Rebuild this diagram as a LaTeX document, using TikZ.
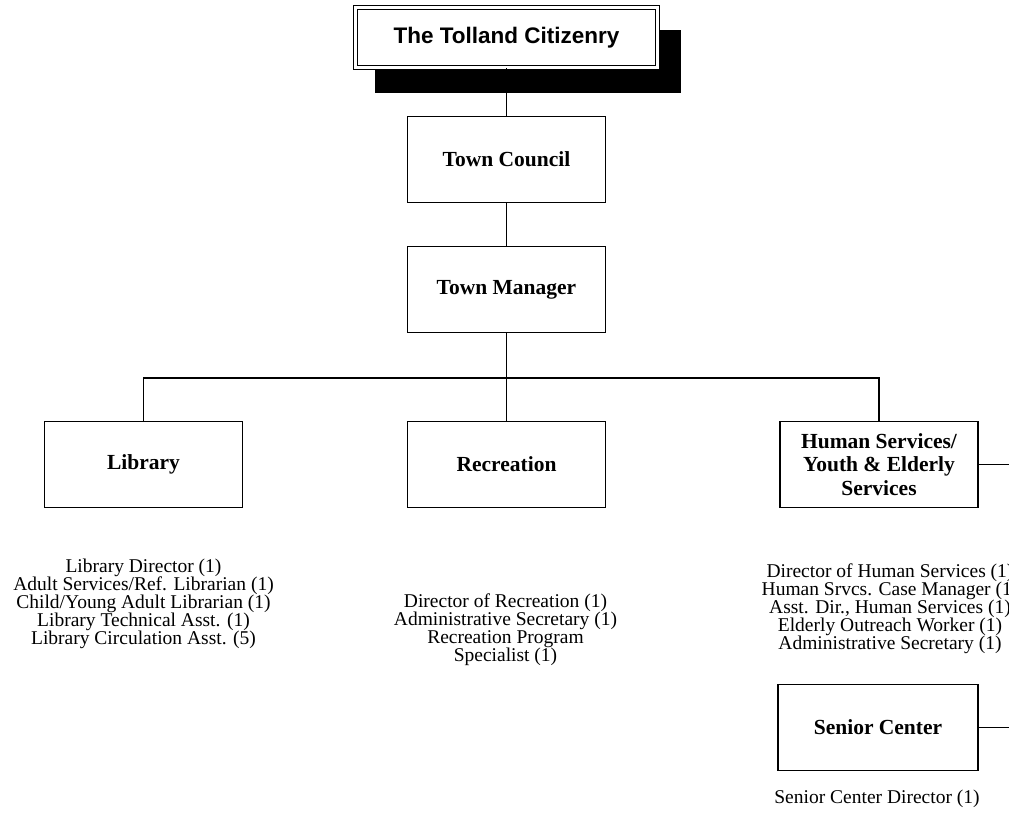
\documentclass[tikz,border=0pt]{standalone}
\usepackage{fontspec}
\setmainfont{Liberation Serif}
\setsansfont{Liberation Sans}
\usetikzlibrary{shapes.geometric, positioning, backgrounds}

\begin{document}
\begin{tikzpicture}[x=1pt, y=-1pt]

% Define styles
\tikzstyle{block} = [rectangle, draw=black, line width=1.6pt, fill=white,
    minimum width=198pt, minimum height=86pt, align=center,
    font=\fontsize{21.5}{23.5}\selectfont\bfseries]
\tikzstyle{banner} = [rectangle, draw=black, double, double distance=2.5pt, line width=1.1pt,
    fill=white, minimum width=302pt, minimum height=60pt,
    font=\fontsize{22.5}{26}\selectfont\sffamily\bfseries]
\tikzstyle{staff} = [align=center, anchor=north, inner sep=0pt,
    font=\fontsize{19.5}{18}\selectfont]
\tikzstyle{line} = [draw, line width=1.6pt]

% Fix the frame
\path [use as bounding box, clip] (0,0) rectangle (1009,813);

% Place nodes
\node [banner] (citizens) at (506.5,37.5) {The Tolland Citizenry};
\node [block] (council) at (506.5,159.5) {Town Council};
\node [block] (manager) at (506.5,289.5) {Town Manager};
\node [block] (library) at (143.5,464.5) {Library};
\node [block] (recreation) at (506.5,464.5) {Recreation};
\node [block] (human) at (879,464.5) {Human Services/\\ Youth \& Elderly\\ Services};
\node [block, minimum width=200pt] (senior) at (878,727.5) {Senior Center};

% Staff lists
\node [staff] (libstaff) at (143.5,559) {Library Director (1)\\ Adult Services/Ref. Librarian (1)\\
    Child/Young Adult Librarian (1)\\ Library Technical Asst. (1)\\ Library Circulation Asst. (5)};
\node [staff] (recstaff) at (505.5,594) {Director of Recreation (1)\\ Administrative Secretary (1)\\
    Recreation Program\\ Specialist (1)};
\node [staff] (humstaff) at (890,564) {Director of Human Services (1)\\ Human Srvcs. Case Manager (1)\\
    Asst. Dir., Human Services (1)\\ Elderly Outreach Worker (1)\\ Administrative Secretary (1)};
\node [staff] (senstaff) at (877,790) {Senior Center Director (1)};

% Shadow of the banner
\begin{pgfonlayer}{background}
    \fill [black] ([shift={(20,25)}]citizens.south west) rectangle ([shift={(23,23)}]citizens.north east);
\end{pgfonlayer}

% Draw edges
\coordinate (split) at (506.5,378);
\coordinate (rim) at (1020,0);
\path [line] (council.north) -- (council.north |- citizens.south);
\path [line] (council) -- (manager);
\path [line] (manager.south) -- (split);
\path [line] (split) -| (library.north);
\path [line] (split) -| (human.north);
\path [line] (split) -- (recreation.north);
\path [line] (human.east) -- (human.east -| rim);
\path [line] (senior.east) -- (senior.east -| rim);

\end{tikzpicture}
\end{document}
